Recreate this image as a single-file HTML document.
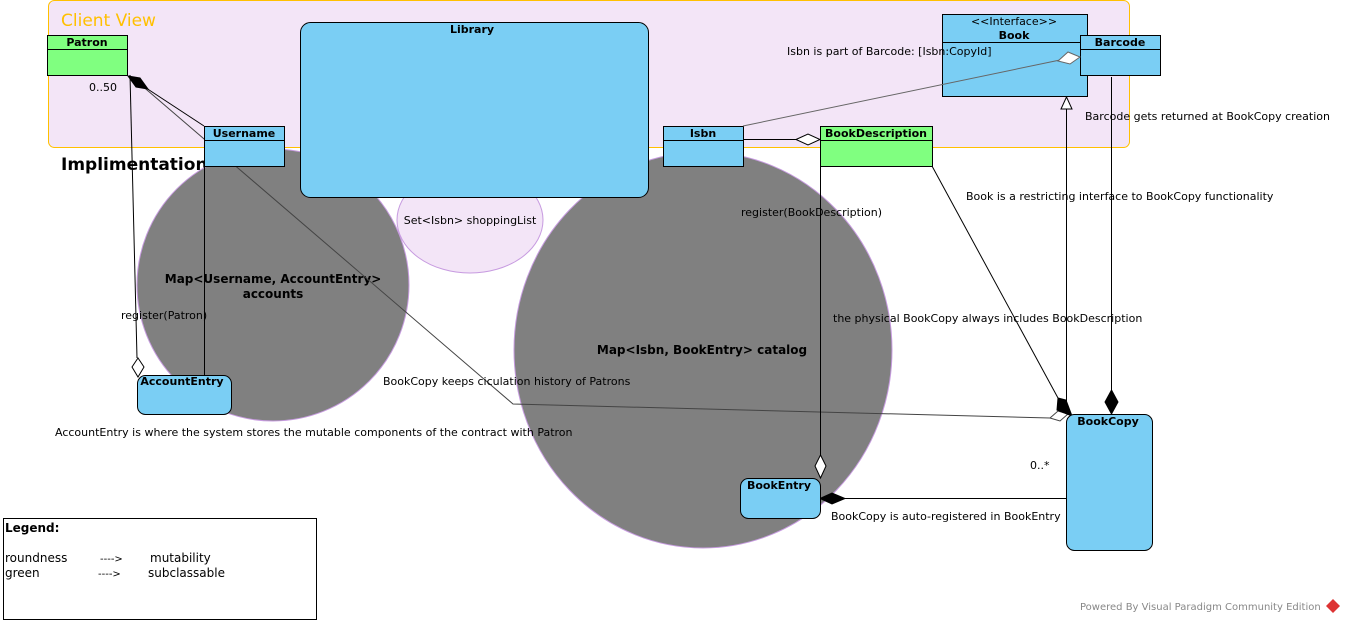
<!DOCTYPE html>
<html><head><meta charset="utf-8"><style>
html,body{margin:0;padding:0;background:#fff;width:1345px;height:623px;overflow:hidden}
svg{display:block;font-family:"DejaVu Sans","Liberation Sans",sans-serif;font-size:11px}
.b{font-weight:bold}
</style></head><body>
<svg width="1345" height="623" viewBox="0 0 1345 623">
<rect x="48.5" y="0.5" width="1081" height="147" rx="6" fill="#f3e5f7" stroke="#ffc000"/>
<text x="61" y="26" font-size="17" fill="#ffc000">Client View</text>
<text x="61" y="170" font-size="17" class="b">Implimentation</text>

<circle cx="273" cy="285" r="136" fill="#808080" stroke="#c79be0"/>
<ellipse cx="470" cy="220" rx="73" ry="53" fill="#f3e5f7" stroke="#c79be0"/>
<ellipse cx="703" cy="350" rx="189" ry="198" fill="#808080" stroke="#c79be0"/>
<text x="273" y="283" text-anchor="middle" class="b" font-size="12">Map&lt;Username, AccountEntry&gt;</text>
<text x="273" y="298" text-anchor="middle" class="b" font-size="12">accounts</text>
<text x="470" y="224" text-anchor="middle">Set&lt;Isbn&gt; shoppingList</text>
<text x="702" y="354" text-anchor="middle" class="b" font-size="12">Map&lt;Isbn, BookEntry&gt; catalog</text>

<rect x="300.5" y="22.5" width="348" height="175" rx="10" fill="#7acef4" stroke="#000"/>
<text x="472" y="33" text-anchor="middle" class="b">Library</text>

<g fill="none" stroke="#000">
<line x1="140" y1="84" x2="204" y2="126"/>
<polyline points="140,84 513,404 1050,418" stroke="#444"/>
<line x1="130" y1="75" x2="137" y2="358"/>
<line x1="204.5" y1="166" x2="204.5" y2="375"/>
<line x1="743" y1="139.5" x2="796" y2="139.5"/>
<line x1="932" y1="166" x2="1058" y2="398"/>
<line x1="820.5" y1="166" x2="820.5" y2="455"/>
<line x1="1066.5" y1="109" x2="1066.5" y2="414"/>
<line x1="1111.5" y1="77" x2="1111.5" y2="390"/>
<line x1="845" y1="498.5" x2="1066" y2="498.5"/>
</g>
<polygon points="128,76 140,78 148,89 136,87" fill="#000" stroke="#000"/>
<polygon points="1050,418 1058,411 1068,414 1060,421" fill="#fff" stroke="#444"/>
<polygon points="138,358 144,367 138,377 132,367" fill="#fff" stroke="#000"/>
<polygon points="796,139.5 808,134 820,139.5 808,145" fill="#fff" stroke="#000"/>
<polygon points="1058,398 1066,400 1072,416 1057,410" fill="#000" stroke="#000"/>
<polygon points="820.5,455 826,466 820.5,478 815,466" fill="#fff" stroke="#000"/>
<polygon points="1066.5,97 1072,109 1061,109" fill="#fff" stroke="#000"/>
<polygon points="1111.5,390 1118,402 1111.5,414 1105,402" fill="#000" stroke="#000"/>
<polygon points="820,498.5 832,493 845,498.5 832,504" fill="#000" stroke="#000"/>

<rect x="47.5" y="35.5" width="80" height="40" fill="#80ff80" stroke="#000"/>
<line x1="47.5" y1="49.5" x2="127.5" y2="49.5" stroke="#000"/>
<text x="87" y="46" text-anchor="middle" class="b">Patron</text>
<rect x="204.5" y="126.5" width="80" height="40" fill="#7acef4" stroke="#000"/>
<line x1="204.5" y1="140.5" x2="284.5" y2="140.5" stroke="#000"/>
<text x="244" y="137" text-anchor="middle" class="b">Username</text>
<rect x="663.5" y="126.5" width="80" height="40" fill="#7acef4" stroke="#000"/>
<line x1="663.5" y1="140.5" x2="743.5" y2="140.5" stroke="#000"/>
<text x="703" y="137" text-anchor="middle" class="b">Isbn</text>
<rect x="820.5" y="126.5" width="112" height="40" fill="#80ff80" stroke="#000"/>
<line x1="820.5" y1="140.5" x2="932.5" y2="140.5" stroke="#000"/>
<text x="876" y="137" text-anchor="middle" class="b">BookDescription</text>
<rect x="942.5" y="14.5" width="145" height="82" fill="#7acef4" stroke="#000"/>
<line x1="942.5" y1="42.5" x2="1087.5" y2="42.5" stroke="#000"/>
<text x="1014" y="25" text-anchor="middle">&lt;&lt;Interface&gt;&gt;</text>
<text x="1014" y="39" text-anchor="middle" class="b">Book</text>
<rect x="1080.5" y="35.5" width="80" height="40" fill="#7acef4" stroke="#000"/>
<line x1="1080.5" y1="49.5" x2="1160.5" y2="49.5" stroke="#000"/>
<text x="1120" y="46" text-anchor="middle" class="b">Barcode</text>
<rect x="137.5" y="375.5" width="94" height="39" rx="8" fill="#7acef4" stroke="#000"/>
<text x="182" y="385" text-anchor="middle" class="b">AccountEntry</text>
<rect x="740.5" y="478.5" width="80" height="40" rx="8" fill="#7acef4" stroke="#000"/>
<text x="779" y="489" text-anchor="middle" class="b">BookEntry</text>
<rect x="1066.5" y="414.5" width="86" height="136" rx="8" fill="#7acef4" stroke="#000"/>
<text x="1108" y="425" text-anchor="middle" class="b">BookCopy</text>

<line x1="743" y1="126" x2="1060" y2="60" stroke="#666"/>
<polygon points="1080,57 1070,64 1058,61 1068,52" fill="#fff" stroke="#666"/>

<text x="89" y="91">0..50</text>
<text x="787" y="55">Isbn is part of Barcode: [Isbn:CopyId]</text>
<text x="1085" y="120">Barcode gets returned at BookCopy creation</text>
<text x="966" y="200">Book is a restricting interface to BookCopy functionality</text>
<text x="741" y="216">register(BookDescription)</text>
<text x="121" y="319">register(Patron)</text>
<text x="833" y="322">the physical BookCopy always includes BookDescription</text>
<text x="383" y="385">BookCopy keeps ciculation history of Patrons</text>
<text x="55" y="436">AccountEntry is where the system stores the mutable components of the contract with Patron</text>
<text x="1030" y="469">0..*</text>
<text x="831" y="520">BookCopy is auto-registered in BookEntry</text>

<rect x="3.5" y="518.5" width="313" height="101" fill="#fff" stroke="#000"/>
<text x="5" y="532" font-size="12" class="b">Legend:</text>
<text x="5" y="562" font-size="12">roundness</text>
<text x="100" y="562" font-size="10">----&gt;</text>
<text x="150" y="562" font-size="12">mutability</text>
<text x="5" y="577" font-size="12">green</text>
<text x="98" y="577" font-size="10">----&gt;</text>
<text x="148" y="577" font-size="12">subclassable</text>

<text x="1080" y="610" font-size="10" fill="#888">Powered By Visual Paradigm Community Edition</text>
<polygon points="1333,599 1340,606 1333,613 1326,606" fill="#d33"/>
</svg>
</body></html>
